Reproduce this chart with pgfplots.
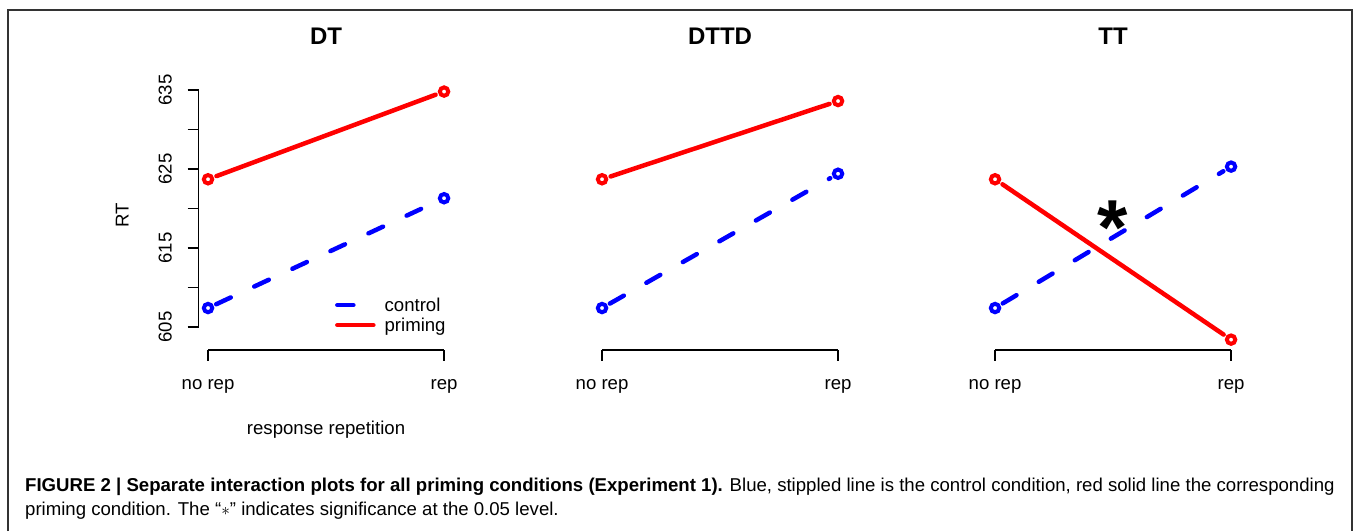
\documentclass[border=0pt]{standalone}
\usepackage{pgfplots}
\pgfplotsset{compat=1.18}
\usepackage{fontspec}
\setmainfont{Liberation Sans}
\definecolor{rred}{RGB}{255,0,0}
\definecolor{rblue}{RGB}{0,0,255}
\pgfplotsset{
  panel/.style={
    scale only axis, width=254.9pt, height=268.6pt,
    xmin=0.96, xmax=2.04, ymin=602.1, ymax=636.1,
    axis lines*=left, axis line style={draw=none},
    clip=false,
    xtick={1,2}, xticklabels={no rep, rep},
    tick align=outside, major tick length=11pt,
    tick style={black, line width=1.2pt},
    ticklabel style={font=\fontsize{18.6}{22}\selectfont},
    xticklabel style={anchor=base, yshift=-29pt},
    title style={at={(0.5,1)}, anchor=base, yshift=30.5pt, font=\bfseries\fontsize{24}{28}\selectfont},
    legend image code/.code={\draw[#1, shorten <=0pt, shorten >=0pt] (0pt,0pt) -- (36pt,0pt);},
  },
  ctrl/.style={rblue, line width=4.5pt, line cap=round, dash pattern=on 16pt off 26pt,
    shorten <=9pt, shorten >=9pt, mark=o, mark size=4.2pt,
    mark options={solid, line width=4pt, shorten <=0pt, shorten >=0pt}},
  prim/.style={rred, line width=4.5pt, line cap=round,
    shorten <=9pt, shorten >=9pt, mark=o, mark size=4.2pt,
    mark options={solid, line width=4pt, shorten <=0pt, shorten >=0pt}},
}
\begin{document}
\begin{tikzpicture}
\useasboundingbox (0pt,0pt) rectangle (1357pt,531pt);
\fill[white] (0pt,0pt) rectangle (1357pt,531pt);

% Panel DT
\begin{axis}[panel, at={(198.6pt,181.1pt)}, anchor=south west,
  title={DT},
  ytick={605,610,...,635}, yticklabels={605,,615,,625,,635},
  yticklabel style={rotate=90, anchor=base, yshift=15.9pt},
  xlabel={response repetition},
  xlabel style={at={(axis description cs:0.5,0)}, anchor=base, yshift=-85pt, font=\fontsize{18.6}{22}\selectfont},
  ylabel={RT},
  ylabel style={at={(axis description cs:-0.2742,0.5)}, anchor=base, font=\fontsize{18.6}{22}\selectfont},
  legend style={at={(axis description cs:0.523,0.21)}, anchor=north west, draw=none, fill=none,
    font=\fontsize{18.6}{22}\selectfont, row sep=1pt,
    /tikz/every odd column/.append style={column sep=7pt}},
  legend cell align=left,
]
\addplot[ctrl] coordinates {(1,607.4) (2,621.3)};
\addlegendentry{control}
\addplot[prim] coordinates {(1,623.7) (2,634.8)};
\addlegendentry{priming}
\draw[black, line width=1.2pt] (axis cs:1,602.1) -- (axis cs:2,602.1);
\draw[black, line width=1.2pt] (axis cs:0.96,605) -- (axis cs:0.96,635);
\end{axis}

% Panel DTTD
\begin{axis}[panel, at={(592.6pt,181.1pt)}, anchor=south west,
  title={DTTD}, ytick=\empty]
\addplot[ctrl] coordinates {(1,607.4) (2,624.4)};
\addplot[prim] coordinates {(1,623.7) (2,633.6)};
\draw[black, line width=1.2pt] (axis cs:1,602.1) -- (axis cs:2,602.1);
\end{axis}

% Panel TT
\begin{axis}[panel, at={(985.6pt,181.1pt)}, anchor=south west,
  title={TT}, ytick=\empty]
\addplot[ctrl] coordinates {(1,607.4) (2,625.3)};
\addplot[prim] coordinates {(1,623.7) (2,603.4)};
\draw[black, line width=1.2pt] (axis cs:1,602.1) -- (axis cs:2,602.1);
\node[font=\bfseries\fontsize{78}{86}\selectfont, anchor=center] at (axis cs:1.5,617.6) {*};
\end{axis}

% frame
\draw[black!80, line width=1.5pt] (8pt,0pt) -- (8pt,521pt) -- (1352pt,521pt) -- (1352pt,0pt);

% caption
\node[anchor=base west, inner sep=0pt, font=\fontsize{18.6}{22}\selectfont] at (25pt,40pt)
  {\textbf{FIGURE 2 | Separate interaction plots for all priming conditions (Experiment 1).} Blue, stippled line is the control condition, red solid line the corresponding};
\node[anchor=base west, inner sep=0pt, font=\fontsize{18.6}{22}\selectfont] at (25pt,16pt)
  {priming condition. The “$\ast$” indicates significance at the 0.05 level.};
\end{tikzpicture}
\end{document}
